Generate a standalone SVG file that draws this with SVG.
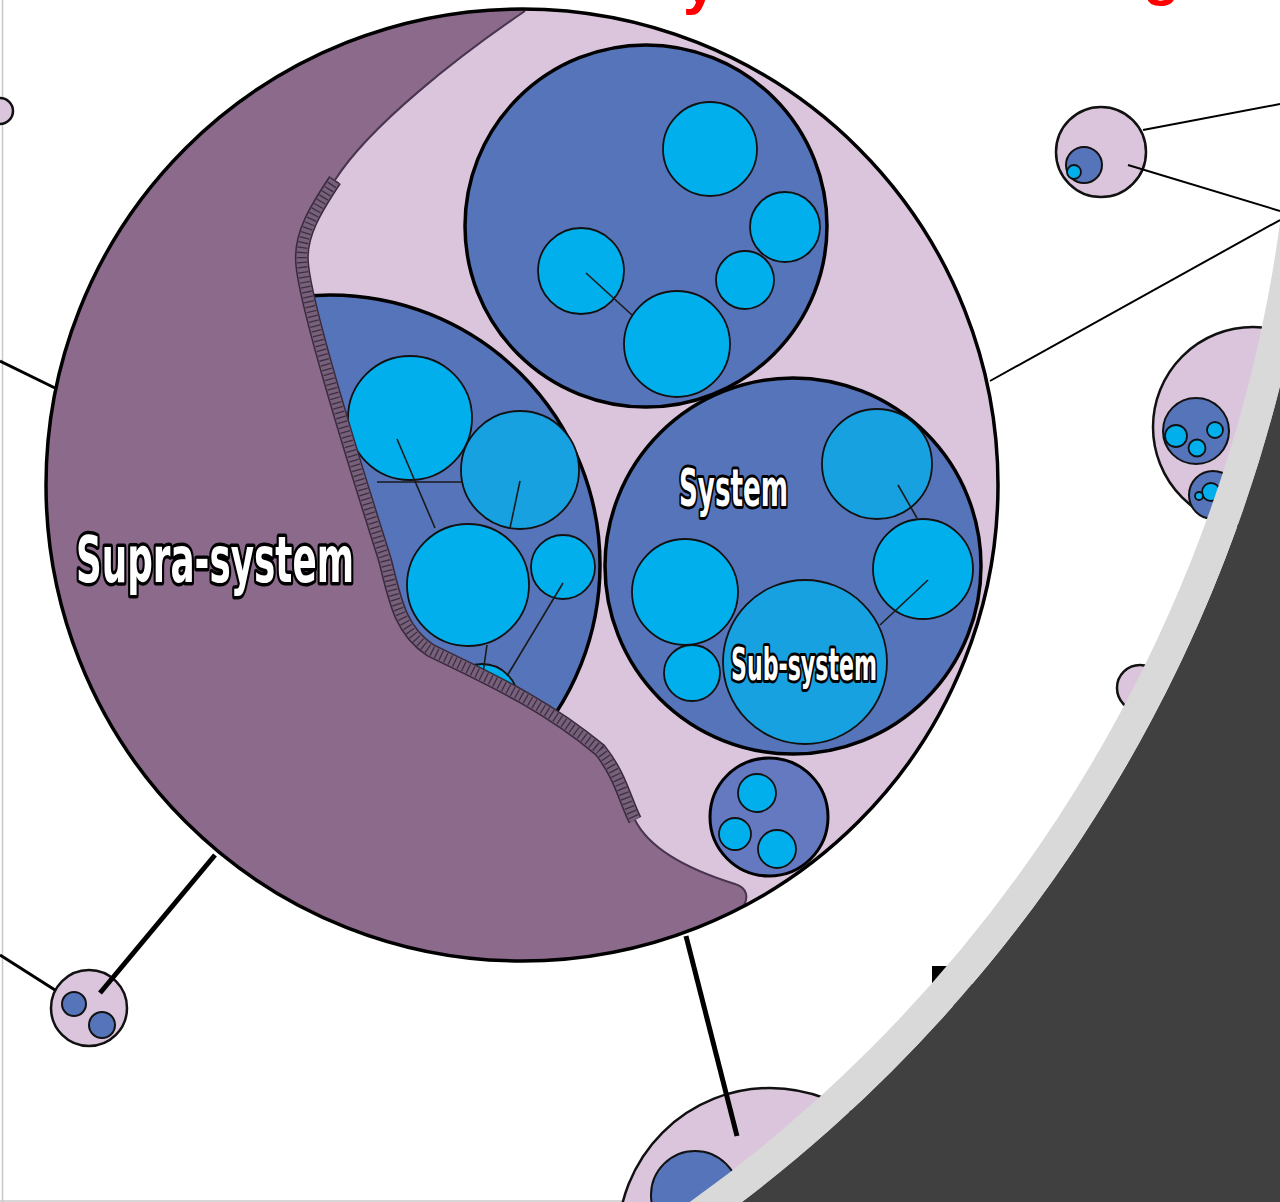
<svg xmlns="http://www.w3.org/2000/svg" width="1280" height="1202" viewBox="0 0 1280 1202">
<style>
.pink{fill:#dbc5dc;stroke:#111;stroke-width:2.5}
.sys{fill:#5674b9;stroke:#000;stroke-width:3.5}
.cy{fill:#00afec;stroke:#111;stroke-width:1.8}
.cy2{fill:#17a1e1;stroke:#111;stroke-width:1.8}
.bl{fill:#5674b9;stroke:#111;stroke-width:2}
.thin{stroke:#1a1a1a;stroke-width:1.6;fill:none}
.con{stroke:#000;fill:none}
.lbl{font-family:"Liberation Sans Narrow","DejaVu Sans Condensed","DejaVu Sans",sans-serif;font-weight:bold;fill:#fff;stroke:#000;stroke-linejoin:round;paint-order:stroke}
.red{font-family:"Liberation Sans",Arial,sans-serif;font-weight:bold;fill:#ff0000}
</style>
<defs>
<clipPath id="bigclip"><circle cx="522" cy="485" r="476"/></clipPath>
<path id="band" d="M335 180 C315 210 300 235 302 262 C304 300 350 450 385 560 C395 600 400 630 430 650 C480 675 540 700 600 750 C620 775 625 800 635 820"/>
</defs>
<rect x="0" y="0" width="1280" height="1202" fill="#fff"/>
<text class="red" x="683" y="3" font-size="60">y</text>
<text class="red" x="1143" y="-6" font-size="60">g</text>
<line x1="2.5" y1="0" x2="2.5" y2="1202" stroke="#c8c8c8" stroke-width="1.5"/>
<line x1="0" y1="1201" x2="1280" y2="1201" stroke="#c8c8c8" stroke-width="1.5"/>

<g id="node-topleft"><circle class="pink" cx="0" cy="111" r="13"/></g>

<g id="node-bottomleft">
<circle class="pink" cx="89" cy="1008" r="38"/>
<circle class="bl" cx="74" cy="1004" r="12"/>
<circle class="bl" cx="102" cy="1025" r="13"/>
</g>

<g id="node-topright">
<circle class="pink" cx="1101" cy="152" r="45"/>
<circle class="bl" cx="1084" cy="165" r="18"/>
<circle class="cy" cx="1074" cy="172" r="7"/>
</g>

<g id="node-right">
<circle class="pink" cx="1253" cy="427" r="100" stroke-width="3"/>
<circle class="bl" cx="1196" cy="431" r="33"/>
<circle class="cy" cx="1176" cy="436" r="11"/>
<circle class="cy" cx="1197" cy="448" r="8.5"/>
<circle class="cy" cx="1215" cy="430" r="8"/>
<circle class="bl" cx="1213" cy="495" r="24"/>
<circle class="cy" cx="1211" cy="492" r="9"/>
<circle class="cy" cx="1199" cy="496" r="4"/>
</g>

<g id="node-right-small"><circle class="pink" cx="1140" cy="688" r="23"/></g>

<g id="node-bottom">
<circle class="pink" cx="770" cy="1240" r="152"/>
<circle class="bl" cx="695" cy="1195" r="44"/>
</g>

<g id="node-supra">
<circle cx="522" cy="485" r="476" fill="#dbc5dc"/>
<g clip-path="url(#bigclip)">
<g id="node-left-system">
<circle class="sys" cx="330" cy="565" r="270"/>
<circle class="cy" cx="410" cy="418" r="62"/>
<circle class="cy2" cx="520" cy="470" r="59"/>
<circle class="cy" cx="468" cy="585" r="61"/>
<circle class="cy" cx="563" cy="567" r="32"/>
<circle class="cy" cx="482" cy="700" r="36"/>
<line class="thin" x1="377" y1="482" x2="462" y2="482"/>
<line class="thin" x1="397" y1="439" x2="435" y2="528"/>
<line class="thin" x1="520" y1="481" x2="510" y2="528"/>
<line class="thin" x1="563" y1="583" x2="507" y2="676"/>
<line class="thin" x1="487" y1="645" x2="483" y2="673"/>
</g>
<path fill="#8b6a8c" d="M525 -20 L525 11 C460 55 370 125 335 180 C315 210 300 235 302 262 C304 300 350 450 385 560 C395 600 400 630 430 650 C480 675 540 700 600 750 C620 775 625 800 635 820 C650 850 690 870 735 884 C748 888 748 898 744 905 L760 980 L-20 1230 L-20 -20 Z"/>
</g>
<path d="M525 11 C460 55 370 125 335 180" fill="none" stroke="#4a3550" stroke-width="2"/>
<use href="#band" fill="none" stroke="#3a2a3c" stroke-width="14"/>
<use href="#band" fill="none" stroke="#76607a" stroke-width="11"/>
<use href="#band" fill="none" stroke="#3e2e44" stroke-width="10" stroke-dasharray="1.3 3.7"/>
<path d="M635 820 C650 850 690 870 735 884 C748 888 748 898 744 905" fill="none" stroke="#4a3550" stroke-width="2"/>
<text class="lbl" x="76" y="582" font-size="64" stroke-width="7" textLength="278" lengthAdjust="spacingAndGlyphs">Supra-system</text>

<g id="node-top-system">
<circle class="sys" cx="646" cy="226" r="181"/>
<circle class="cy" cx="710" cy="149" r="47"/>
<circle class="cy" cx="785" cy="227" r="35"/>
<circle class="cy" cx="745" cy="280" r="29"/>
<circle class="cy" cx="581" cy="271" r="43"/>
<circle class="cy" cx="677" cy="344" r="53"/>
<line class="thin" x1="586" y1="273" x2="632" y2="315"/>
</g>

<g id="node-system">
<circle class="sys" cx="793" cy="566" r="188"/>
<circle class="cy2" cx="877" cy="464" r="55"/>
<circle class="cy" cx="923" cy="569" r="50"/>
<circle class="cy" cx="685" cy="592" r="53"/>
<circle class="cy" cx="692" cy="673" r="28"/>
<circle class="cy2" cx="805" cy="662" r="82"/>
<line class="thin" x1="898" y1="485" x2="917" y2="518"/>
<line class="thin" x1="928" y1="580" x2="880" y2="625"/>
<text class="lbl" x="679" y="506" font-size="52" stroke-width="6" textLength="109" lengthAdjust="spacingAndGlyphs">System</text>
<text class="lbl" x="731" y="680" font-size="44" stroke-width="6" textLength="146" lengthAdjust="spacingAndGlyphs">Sub-system</text>
</g>

<g id="node-small-system">
<circle cx="769" cy="817" r="59" fill="#6479bf" stroke="#000" stroke-width="3"/>
<circle class="cy" cx="757" cy="793" r="19"/>
<circle class="cy" cx="735" cy="834" r="16"/>
<circle class="cy" cx="777" cy="849" r="19"/>
</g>
<circle cx="522" cy="485" r="476" fill="none" stroke="#000" stroke-width="3.5"/>
</g>

<g id="connectors">
<line class="con" x1="0" y1="361" x2="55" y2="388" stroke-width="3"/>
<line class="con" x1="0" y1="955" x2="55" y2="990" stroke-width="3"/>
<line class="con" x1="215" y1="855" x2="100" y2="993" stroke-width="5"/>
<line class="con" x1="686" y1="936" x2="737" y2="1136" stroke-width="5"/>
<line class="con" x1="990" y1="381" x2="1280" y2="220" stroke-width="2"/>
<line class="con" x1="1143" y1="130" x2="1280" y2="104" stroke-width="2"/>
<line class="con" x1="1128" y1="165" x2="1280" y2="211" stroke-width="2"/>
</g>

<rect x="932" y="966" width="40" height="40" fill="#000"/>
<path fill="#404040" fill-rule="evenodd" d="M0 0 H1280 V1202 H0 Z M-1626 28 A1475 1475 0 1 0 1324 28 A1475 1475 0 1 0 -1626 28 Z"/>
<circle cx="-151" cy="28" r="1459.5" fill="none" stroke="#d9d9d9" stroke-width="31"/>
</svg>
